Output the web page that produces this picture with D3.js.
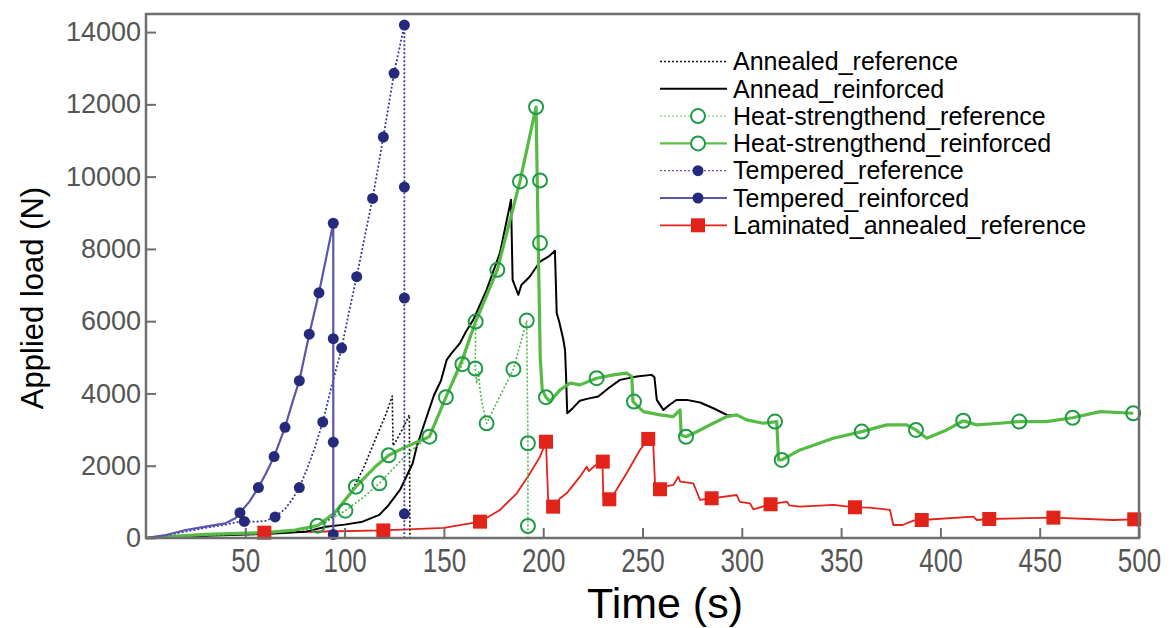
<!DOCTYPE html>
<html><head><meta charset="utf-8">
<script src="https://cdn.jsdelivr.net/npm/d3@7"></script>
<style>
body{margin:0;background:#fff}
svg text{font-family:"Liberation Sans",Arial,Helvetica,sans-serif}
</style></head>
<body><svg id="chart" width="1175" height="628"></svg>
<script>
// ---------------- data ----------------
const xTicks = [50,100,150,200,250,300,350,400,450,500];
const yTicks = [0,2000,4000,6000,8000,10000,12000,14000];
const seriesNames = ["Annealed_reference","Annead_reinforced","Heat-strengthend_reference","Heat-strengthend_reinforced","Tempered_reference","Tempered_reinforced","Laminated_annealed_reference"];

// [time (s), load (N)]
const annealedRef = [[0,0],[30,70],[60,150],[80,250],[90,420],[95,650],[100.7,1052],[105,1450],[109.1,1883],[113,2400],[117.5,2991],[121,3450],[124,3930],[124.4,2550],[126,2700],[129,3000],[132.6,3406],[132.9,0]];

const annealedReinf = [[0,0],[30,60],[60,110],[80,170],[90.6,313],[100,370],[109,452],[117.5,640],[122,900],[127.9,1329],[134.3,2069],[136.3,2528],[141,3300],[145,3950],[148.5,4350],[151.4,4929],[153.9,5115],[158.1,5392],[161,5700],[164.8,6037],[171.5,6868],[178.2,7884],[183.8,9361],[184.6,7145],[187.5,6730],[189,7000],[191.7,7145],[193.3,7236],[198.4,7650],[203,7800],[205.9,7950],[206.8,6223],[208,6000],[210.1,5500],[211,5200],[211.5,4500],[212.1,3453],[215,3600],[218.5,3800],[222,3850],[227.7,3913],[233,4150],[238.7,4376],[247.1,4468],[254.6,4514],[256,4450],[257.2,3822],[260.5,3545],[264,3700],[267.2,3822],[272.3,3822],[279,3750],[285.7,3590],[292.4,3406],[295,3380]];

const hsRef = [[0,0],[30,80],[60,130],[80,230],[90,420],[100.4,757],[110,1150],[117.5,1513],[125,1950],[133,2400],[142.7,2805],[151,3895],[159.3,4811],[166,5990],[165.8,4690],[166.5,4300],[167.5,4600],[168,4200],[169,3800],[171.5,3173],[178,3900],[185,4671],[191.7,6017],[192.3,2622],[192.3,332],[192.3,0]];
const hsRefMarkers = [[100.4,757],[117.5,1513],[159.3,4811],[165.8,4690],[171.5,3173],[185,4671],[191.7,6017],[192.3,2622],[192.3,332]];

const hsReinf = [[0,0],[30,100],[60,150],[75,220],[86.4,341],[95,700],[105.7,1421],[115,1950],[122.2,2290],[130,2500],[142.7,2805],[151,3895],[159,4900],[166,5990],[176.9,7422],[188.3,9868],[196.4,11926],[197.5,8162],[198.5,5000],[199.5,4100],[201.4,3896],[203.4,3775],[208.5,4099],[213.5,4284],[218.5,4237],[226.9,4422],[235.3,4514],[242,4560],[244.6,4468],[245.2,3775],[250.4,3498],[258.8,3406],[265.5,3360],[268.9,3545],[269.5,2850],[271.9,2802],[277.3,2941],[285.6,3174],[292.4,3360],[297.4,3406],[302.5,3268],[310.8,3176],[317.6,3222],[318.5,2161],[320.1,2161],[329.3,2437],[346.1,2760],[360.4,2944],[373,3130],[383,3130],[387.7,2991],[393.1,2760],[403.2,2991],[411.5,3245],[418.3,3130],[430,3176],[439.7,3222],[453.5,3222],[466.6,3328],[480.4,3498],[497.1,3452]];
const hsReinfMarkers = [[86.4,341],[105.7,1421],[122.2,2290],[142.7,2805],[151,3895],[166,5990],[176.9,7422],[188.3,9868],[196.4,11926],[198.4,9896],[198.4,8162],[201.4,3896],[226.9,4422],[245.7,3775],[271.9,2802],[316.7,3222],[320.1,2161],[360.4,2944],[387.7,2991],[411.5,3245],[439.7,3222],[466.6,3328],[497.1,3452]];

const tempRef = [[0,0],[10,70],[20,180],[30,280],[40,370],[45,430],[49.5,460],[55,450],[60,470],[65,584],[70,800],[74,1100],[77.2,1396],[81,1900],[85,2500],[89,3207],[93,4100],[98.5,5256],[102,6200],[106.1,7231],[110,8300],[114.1,9397],[119.5,11094],[124.9,12858],[130.1,14193],[130.1,0]];
const tempRefMarkers = [[49.5,460],[65,584],[77.2,1396],[89,3207],[98.5,5256],[106.1,7231],[114.1,9397],[119.5,11094],[124.9,12858],[130.1,14193],[130.1,9712],[130.1,6641],[130.1,670]];

const tempReinf = [[0,0],[10,83],[20,221],[30,313],[40,406],[45,545],[47.3,701],[52,1000],[56.6,1396],[60.5,1800],[64.5,2254],[70,3063],[74,3800],[77.2,4351],[82.2,5639],[87.1,6785],[94.3,8710],[94.3,0]];
const tempReinfMarkers = [[47.3,701],[56.6,1396],[64.5,2254],[70,3063],[77.2,4351],[82.2,5639],[87.1,6785],[94.3,8710],[94.3,5514],[94.3,2653],[94.3,97]];

const laminated = [[0,0],[30,100],[59.6,147],[90,180],[119.5,210],[150,280],[168.2,452],[178.2,775],[186.7,1236],[193.4,1791],[198.4,2251],[201.4,2664],[202.6,914],[205,868],[208.5,1099],[211.8,1236],[218.5,1697],[221.9,1975],[223,1850],[226,2000],[229.8,2113],[230.3,1144],[235.3,1190],[242,1791],[248.7,2437],[252.9,2742],[255.4,2622],[256.4,1370],[265.5,1467],[268,1697],[269,1560],[275.6,1513],[279,1052],[284.8,1099],[297.4,1190],[299,1000],[304.1,961],[305.8,794],[314.5,933],[322.6,1006],[324,900],[329.3,868],[346.1,914],[357,850],[364.5,840],[374.6,776],[376.3,360],[381,360],[386.4,480],[390.6,498],[416.6,590],[418.3,498],[424.6,526],[456.9,563],[487,498],[497.6,517]];
const laminatedMarkers = [[59.6,147],[119.5,210],[168.2,452],[201.4,2664],[205,868],[230,2113],[233.3,1071],[252.9,2742],[258.8,1349],[284.8,1099],[314.5,933],[357,850],[390.6,498],[424.6,526],[456.9,563],[497.6,517]];

// ---------------- drawing ----------------
const svg = d3.select("#chart");
const L=146, R=1139, T=14, B=538;
const x = d3.scaleLinear().domain([0,500]).range([L,R]);
const y = d3.scaleLinear().domain([0,14500]).range([B,T]);
const line = d3.line().x(d=>x(d[0])).y(d=>y(d[1]));

const styles = {
  annealedRef:{stroke:"#111", w:1.6, dash:"2,2"},
  annealedReinf:{stroke:"#000", w:2, dash:null},
  hsRef:{stroke:"#4cb848", w:1.6, dash:"2,2"},
  hsReinf:{stroke:"#55bb44", w:3.2, dash:null},
  tempRef:{stroke:"#3b3aa0", w:1.8, dash:"2,2"},
  tempReinf:{stroke:"#5b56aa", w:2.2, dash:null},
  laminated:{stroke:"#e2231a", w:1.8, dash:null}
};
const mk = {
  hs:{type:"circle", r:7, fill:"none", stroke:"#1f9a45", sw:2},
  temp:{type:"circle", r:5.5, fill:"#262a7c", stroke:"none", sw:0},
  lam:{type:"square", s:14, fill:"#e2231a"}
};

const plot = svg.append("g");
function drawLine(data, st){
  plot.append("path").datum(data).attr("d", line).attr("fill","none")
    .attr("stroke", st.stroke).attr("stroke-width", st.w)
    .attr("stroke-dasharray", st.dash).attr("stroke-linejoin","round");
}
function drawMarkers(data, m){
  if(m.type==="circle"){
    plot.append("g").selectAll("circle").data(data).join("circle")
      .attr("cx",d=>x(d[0])).attr("cy",d=>y(d[1])).attr("r",m.r)
      .attr("fill",m.fill).attr("stroke",m.stroke).attr("stroke-width",m.sw);
  } else {
    plot.append("g").selectAll("rect").data(data).join("rect")
      .attr("x",d=>x(d[0])-m.s/2).attr("y",d=>y(d[1])-m.s/2)
      .attr("width",m.s).attr("height",m.s).attr("fill",m.fill);
  }
}
drawLine(laminated, styles.laminated);
drawLine(annealedRef, styles.annealedRef);
drawLine(annealedReinf, styles.annealedReinf);
drawLine(hsRef, styles.hsRef);
drawLine(hsReinf, styles.hsReinf);
drawMarkers(hsRefMarkers, mk.hs);
drawMarkers(hsReinfMarkers, mk.hs);
drawLine(tempRef, styles.tempRef);
drawLine(tempReinf, styles.tempReinf);
drawMarkers(tempRefMarkers, mk.temp);
drawMarkers(tempReinfMarkers, mk.temp);
drawMarkers(laminatedMarkers, mk.lam);

// frame
svg.append("rect").attr("x",L).attr("y",T).attr("width",R-L).attr("height",B-T)
  .attr("fill","none").attr("stroke","#6e6e6e").attr("stroke-width",2.5);

// axes
const yAxis = svg.append("g").attr("transform",`translate(${L},0)`)
  .call(d3.axisLeft(y).tickValues(yTicks).tickSize(-10).tickPadding(5).tickFormat(d3.format("d")));
const xAxis = svg.append("g").attr("transform",`translate(0,${B})`)
  .call(d3.axisBottom(x).tickValues(xTicks).tickSize(-10).tickPadding(8).tickFormat(d3.format("d")));
[yAxis,xAxis].forEach(g=>{
  g.select(".domain").remove();
  g.selectAll(".tick line").attr("stroke","#6e6e6e").attr("stroke-width",2);
  g.selectAll(".tick text").attr("fill","#555")
   .style("font-family",'"Liberation Sans",Arial,sans-serif');
});
yAxis.selectAll(".tick text").style("font-size","27px");
xAxis.selectAll(".tick text").style("font-size","26px").attr("transform","scale(1,1.3)");

svg.append("text").attr("transform","translate(43,298) rotate(-90)")
  .attr("text-anchor","middle").attr("fill","#000").style("font-size","31px").text("Applied load (N)");
svg.append("text").attr("x",665).attr("y",618)
  .attr("text-anchor","middle").attr("fill","#000").style("font-size","43px").text("Time (s)");

// legend
const legendStyles = [
  {st:styles.annealedRef, m:null},
  {st:styles.annealedReinf, m:null},
  {st:{stroke:"#8ed67e", w:1.4, dash:"2,2"}, m:mk.hs},
  {st:{stroke:"#5cbf46", w:2.2, dash:null}, m:mk.hs},
  {st:{stroke:"#7a4fa6", w:1.2, dash:"2,2"}, m:mk.temp},
  {st:styles.tempReinf, m:mk.temp},
  {st:styles.laminated, m:mk.lam}
];
const lg = svg.append("g");
seriesNames.forEach((name,i)=>{
  const yy = 61.5 + i*27.3;
  const s = legendStyles[i];
  lg.append("line").attr("x1",660).attr("x2",727).attr("y1",yy).attr("y2",yy)
    .attr("stroke",s.st.stroke).attr("stroke-width",Math.min(s.st.w,2.2)).attr("stroke-dasharray",s.st.dash);
  if(s.m){
    if(s.m.type==="circle") lg.append("circle").attr("cx",698).attr("cy",yy).attr("r",s.m.r)
      .attr("fill",s.m.fill==="none"?"#fff":s.m.fill).attr("stroke",s.m.stroke).attr("stroke-width",s.m.sw);
    else lg.append("rect").attr("x",698-s.m.s/2).attr("y",yy-s.m.s/2).attr("width",s.m.s).attr("height",s.m.s).attr("fill",s.m.fill);
  }
  lg.append("text").attr("x",733).attr("y",yy).attr("dy","0.35em").attr("fill","#000")
    .style("font-size","25px").text(name);
});
</script>
</body></html>
